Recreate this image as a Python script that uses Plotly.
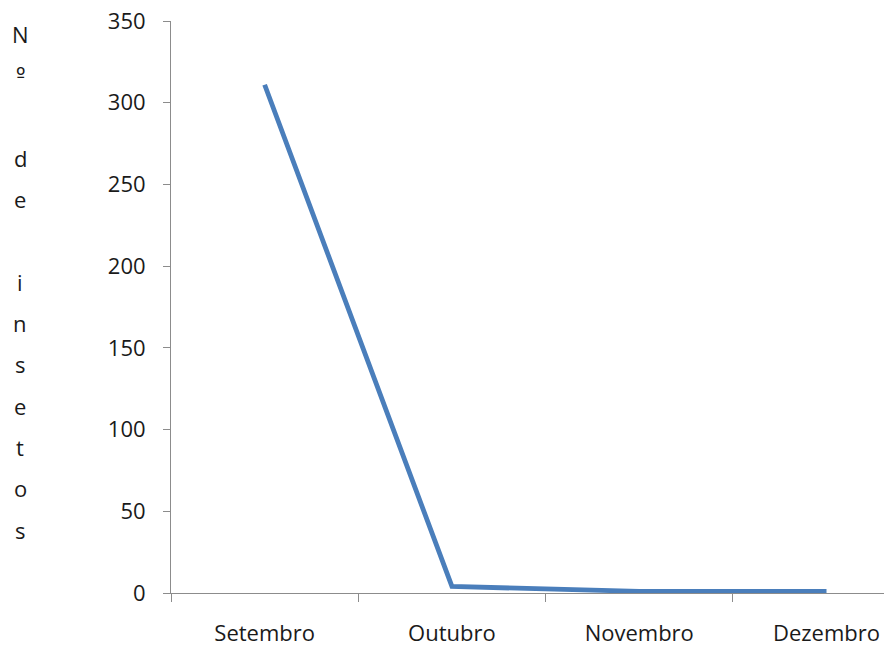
import plotly.graph_objects as go

# Monthly insect counts
months = ["Setembro", "Outubro", "Novembro", "Dezembro"]
insetos = [311, 4, 1, 1]

# Y axis
y_ticks = [0, 50, 100, 150, 200, 250, 300, 350]
y_title_chars = ["N", "º", "", "d", "e", "", "i", "n", "s", "e", "t", "o", "s"]

FONT = "'Open Sans', Lato, sans-serif"
TXT = "#1a1a1a"
AXIS = "#8c8c8c"
W, H = 884, 645
M_L, M_T, M_B = 171, 21, 52

fig = go.Figure()
fig.add_trace(go.Scatter(
    x=months, y=insetos, mode="lines",
    line=dict(color="#4a7ebb", width=4.8),
    hoverinfo="skip", showlegend=False,
))

# Letter-by-letter vertical axis title
line_step = 41.3
top_px = 34
annotations = []
for i, ch in enumerate(y_title_chars):
    if not ch:
        continue
    ypx = top_px + i * line_step
    fam = "'DejaVu Sans', sans-serif" if ch == "º" else FONT
    annotations.append(dict(
        text=ch, xref="paper", yref="paper",
        x=(20 - M_L) / (W - M_L), y=1 - (ypx - M_T) / (H - M_T - M_B),
        xanchor="center", yanchor="middle", showarrow=False,
        font=dict(family=fam, size=22 if ch != "º" else 20, color=TXT),
    ))

fig.update_layout(
    width=W, height=H,
    margin=dict(l=M_L, r=0, t=M_T, b=M_B),
    paper_bgcolor="white", plot_bgcolor="white",
    annotations=annotations,
    xaxis=dict(
        type="category", range=[-0.5, 3.307], automargin=False,
        tickson="boundaries", ticks="outside", ticklen=8, tickcolor=AXIS, tickwidth=1,
        showline=True, linecolor=AXIS, linewidth=1, showgrid=False, zeroline=False,
        tickfont=dict(family=FONT, size=22, color=TXT), ticklabelstandoff=21,
    ),
    yaxis=dict(
        range=[0, 350], tickvals=y_ticks, automargin=False,
        ticks="outside", ticklen=7, tickcolor=AXIS, tickwidth=1,
        showline=True, linecolor=AXIS, linewidth=1, showgrid=False, zeroline=False,
        tickfont=dict(family=FONT, size=22, color=TXT), ticklabelstandoff=13,
    ),
)

fig.write_html("out.html")
